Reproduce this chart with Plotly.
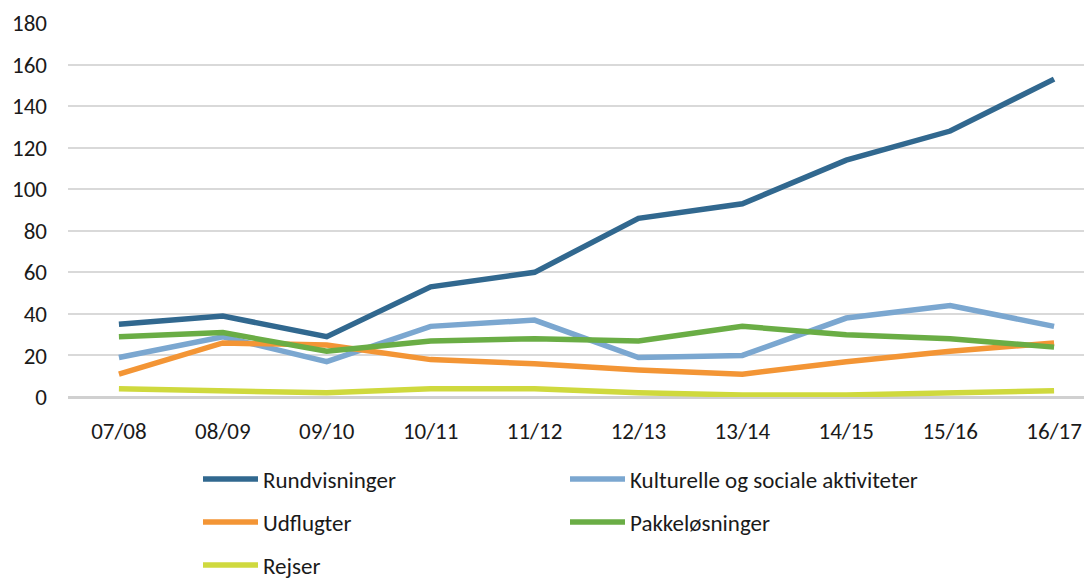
import plotly.graph_objects as go

seasons = ["07/08", "08/09", "09/10", "10/11", "11/12", "12/13", "13/14", "14/15", "15/16", "16/17"]
rundvisninger = [35, 39, 29, 53, 60, 86, 93, 114, 128, 153]
kulturelle = [19, 29, 17, 34, 37, 19, 20, 38, 44, 34]
udflugter = [11, 26, 25, 18, 16, 13, 11, 17, 22, 26]
pakkelosninger = [29, 31, 22, 27, 28, 27, 34, 30, 28, 24]
rejser = [4, 3, 2, 4, 4, 2, 1, 1, 2, 3]

FONT = "Carlito, Liberation Sans Narrow, Open Sans, sans-serif"

# page body has an 8px margin, so the figure is sized to fit the window
W, H = 1084, 573

series = [
    ("Rundvisninger", rundvisninger, "#31688f", "legend"),
    ("Kulturelle og sociale aktiviteter", kulturelle, "#7ba7d0", "legend"),
    ("Udflugter", udflugter, "#f39535", "legend2"),
    ("Pakkeløsninger", pakkelosninger, "#6aad45", "legend2"),
    ("Rejser", rejser, "#cfd93e", "legend3"),
]

fig = go.Figure()
for name, vals, color, leg in series:
    fig.add_trace(
        go.Scatter(
            x=seasons,
            y=vals,
            mode="lines",
            name=name,
            line=dict(color=color, width=5.5),
            legend=leg,
        )
    )

leg_common = dict(
    orientation="h",
    xref="container",
    yref="container",
    x=190 / W,
    xanchor="left",
    yanchor="middle",
    entrywidth=297,
    itemwidth=55,
    font=dict(family=FONT, size=23, color="#1a1a1a"),
    bgcolor="rgba(0,0,0,0)",
)

fig.update_layout(
    width=W,
    height=H,
    margin=dict(l=60, r=0, t=15, b=184),
    paper_bgcolor="white",
    plot_bgcolor="white",
    font=dict(family=FONT, color="#1a1a1a"),
    legend=dict(leg_common, y=1 - 471 / H),
    legend2=dict(leg_common, y=1 - 514 / H),
    legend3=dict(leg_common, y=1 - 557 / H),
    xaxis=dict(
        type="category",
        range=[-0.49, 9.365],
        automargin=False,
        showgrid=False,
        showline=False,
        zeroline=False,
        ticks="",
        tickfont=dict(size=23, color="#1a1a1a"),
        ticklabelstandoff=18,
    ),
    yaxis=dict(
        range=[0, 180],
        dtick=20,
        automargin=False,
        showgrid=True,
        gridcolor="#d9d9d9",
        gridwidth=1.5,
        zeroline=True,
        zerolinecolor="#d0d0d0",
        zerolinewidth=3,
        showline=False,
        ticks="",
        tickfont=dict(size=23, color="#1a1a1a"),
        ticklabelstandoff=20,
    ),
)

fig.write_html("out.html")
